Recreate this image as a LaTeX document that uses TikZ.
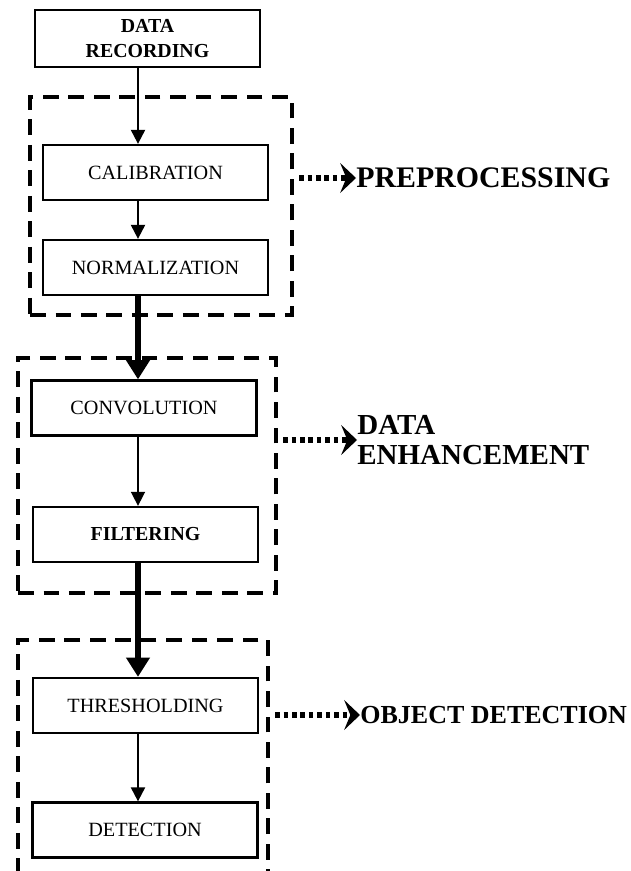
\documentclass[tikz,border=0pt]{standalone}
\usepackage{fontspec}
\setmainfont{Liberation Serif}
\usetikzlibrary{arrows.meta}

\begin{document}
\begin{tikzpicture}[x=0.02cm,y=-0.02cm]
  \tikzstyle{block}=[draw,line width=1.3pt,minimum width=4.5cm,minimum height=1.1cm,inner sep=0pt,align=center,font=\fontsize{11.5}{14}\selectfont]
  \tikzstyle{group}=[draw,line width=2.2pt,dash pattern=on 9pt off 5.5pt,inner sep=0pt]
  \tikzstyle{stage}=[anchor=west,align=left,inner sep=0pt,font=\bfseries\fontsize{17}{17}\selectfont]
  \tikzstyle{flow}=[draw,line width=1.2pt,-{Triangle[length=8pt,width=8pt]}]
  \tikzstyle{bigflow}=[draw,line width=3.4pt,-{Triangle[length=11pt,width=13pt]}]
  \tikzstyle{link}=[draw,line width=3pt,dash pattern=on 2.6pt off 2.2pt,-{Stealth[length=9pt,width=17pt,inset=3.5pt]}]
  \clip (0,0) rectangle (630,871);
  % stage frames
  \node[group,minimum width=5.24cm,minimum height=4.36cm] (prep) at (161,206) {};
  \node[group,minimum width=5.16cm,minimum height=4.7cm] (enhc) at (147,475.5) {};
  \node[group,minimum width=5.0cm,minimum height=5.0cm] (objd) at (143,765) {};
  % blocks
  \node[block,minimum height=1.14cm,font=\bfseries\fontsize{11.3}{14}\selectfont] (rec) at (147.5,38.5) {DATA\\RECORDING};
  \node[block] (cal)  at (155.5,172.5) {CALIBRATION};
  \node[block] (nrm)  at (155.5,267.5) {NORMALIZATION};
  \node[block] (conv) at (144,408)     {CONVOLUTION};
  \node[block,font=\bfseries\fontsize{11.3}{14}\selectfont] (filt) at (145.5,534.5) {FILTERING};
  \node[block] (thr)  at (145.5,705.5) {THRESHOLDING};
  \node[block] (det)  at (145,830)     {DETECTION};
  % flow down the blocks
  \coordinate (spine) at (138,0);
  \draw[flow]    (rec.south -| spine)  -- (cal.north -| spine);
  \draw[flow]    (cal.south -| spine)  -- (nrm.north -| spine);
  \draw[bigflow] (nrm.south -| spine)  -- (conv.north -| spine);
  \draw[flow,line width=0.9pt] (conv.south -| spine) -- (filt.north -| spine);
  \draw[bigflow] (filt.south -| spine) -- (thr.north -| spine);
  \draw[flow]    (thr.south -| spine)  -- (det.north -| spine);
  % stage names
  \node[stage] (pre) at (356,178) {PREPROCESSING};
  \node[stage,font=\bfseries\fontsize{16.5}{17}\selectfont] (enh) at (357,440) {DATA\\ENHANCEMENT};
  \node[stage,font=\bfseries\fontsize{14.8}{14.7}\selectfont] (obj) at (360,715) {OBJECT DETECTION};
  \draw[link,shorten <=3pt] (prep.east |- pre.west) -- (pre.west);
  \draw[link,shorten <=3pt] (enhc.east |- enh.west) -- (enh.west);
  \draw[link,shorten <=3pt] (objd.east |- obj.west) -- (obj.west);
\end{tikzpicture}
\end{document}
